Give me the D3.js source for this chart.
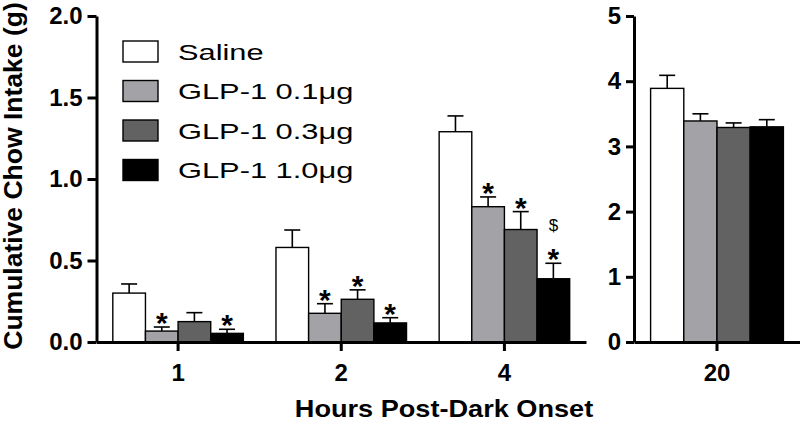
<!DOCTYPE html>
<html>
<head>
<meta charset="utf-8">
<script src="https://cdn.jsdelivr.net/npm/d3@7"></script>
<style>
  body { margin: 0; background: #fff; }
  svg { display: block; font-family: "Liberation Sans", Arial, sans-serif; }
</style>
</head>
<body>
<div id="chart"></div>
<script>
// ---- data ----
const hoursLeft = ["1", "2", "4"];
const hoursRight = ["20"];
const treatments = ["Saline", "GLP-1 0.1\u03bcg", "GLP-1 0.3\u03bcg", "GLP-1 1.0\u03bcg"];
const colors = ["#ffffff", "#a3a3a7", "#626262", "#000000"];

// means / SEM per treatment, for hours 1, 2, 4, 20
const salineMean = [0.30, 0.58, 1.29, 3.89];
const salineSem  = [0.056, 0.107, 0.097, 0.20];
const glp01Mean  = [0.067, 0.176, 0.83, 3.39];
const glp01Sem   = [0.025, 0.059, 0.06, 0.11];
const glp03Mean  = [0.125, 0.262, 0.69, 3.29];
const glp03Sem   = [0.055, 0.058, 0.11, 0.07];
const glp10Mean  = [0.053, 0.117, 0.388, 3.30];
const glp10Sem   = [0.025, 0.032, 0.095, 0.11];

// significance markers per hour (1, 2, 4, 20), one flag per treatment
const starMarks   = [[0, 1, 0, 1], [0, 1, 1, 1], [0, 1, 1, 1], [0, 0, 0, 0]];
const dollarMarks = [[0, 0, 0, 0], [0, 0, 0, 0], [0, 0, 0, 1], [0, 0, 0, 0]];

const hours = hoursLeft.concat(hoursRight);
const means = [salineMean, glp01Mean, glp03Mean, glp10Mean];
const sems = [salineSem, glp01Sem, glp03Sem, glp10Sem];

let rows = [];
hours.forEach((h, hi) => {
    treatments.forEach((t, ti) => {
        rows.push({hour: h, hi: hi, treatment: t, ti: ti,
                   mean: means[ti][hi], sem: sems[ti][hi],
                   star: starMarks[hi][ti], dollar: dollarMarks[hi][ti]});
    });
});

// ---- layout ----
const W = 800, H = 421;
const svg = d3.select("#chart").append("svg")
    .attr("width", W).attr("height", H);

const y0 = 342, yTop = 16;
const yLeft = d3.scaleLinear().domain([0, 2]).range([y0, yTop]);
const yRight = d3.scaleLinear().domain([0, 5]).range([y0, yTop]);

const xLeft = d3.scaleBand().domain(hoursLeft).range([96.5, 586])
    .paddingInner(0.2).paddingOuter(0.1);
const xRight = d3.scaleBand().domain(hoursRight).range([634, 800])
    .paddingInner(0.2).paddingOuter(0.1);

function drawPanel(xs, ys, data) {
    let g = svg.append("g");
    let sub = d3.scaleBand().domain(treatments).range([0, xs.bandwidth()]);
    let bw = sub.bandwidth();

    let bars = g.selectAll("g.bar").data(data).enter().append("g")
        .attr("transform", d => "translate(" + (xs(d.hour) + sub(d.treatment)) + ",0)");

    // error bars (upper only)
    bars.append("line")
        .attr("x1", bw / 2).attr("x2", bw / 2)
        .attr("y1", d => ys(d.mean)).attr("y2", d => ys(d.mean + d.sem))
        .attr("stroke", "#000").attr("stroke-width", 1.6);
    bars.append("line")
        .attr("x1", bw / 2 - 8).attr("x2", bw / 2 + 8)
        .attr("y1", d => ys(d.mean + d.sem)).attr("y2", d => ys(d.mean + d.sem))
        .attr("stroke", "#000").attr("stroke-width", 1.6);

    bars.append("rect")
        .attr("x", 0).attr("width", bw)
        .attr("y", d => ys(d.mean)).attr("height", d => ys(0) - ys(d.mean))
        .attr("fill", d => colors[d.ti])
        .attr("stroke", "#000").attr("stroke-width", 1.4);

    bars.filter(d => d.star).append("text")
        .attr("x", bw / 2).attr("y", d => ys(d.mean + d.sem) + 6)
        .attr("text-anchor", "middle")
        .style("font-size", "30px").style("font-weight", "bold")
        .text("*");

    bars.filter(d => d.dollar).append("text")
        .attr("x", bw / 2).attr("y", d => ys(d.mean + d.sem) - 32)
        .attr("text-anchor", "middle")
        .style("font-size", "17px")
        .text("$");
    return g;
}

drawPanel(xLeft, yLeft, rows.filter(d => hoursLeft.includes(d.hour)));
drawPanel(xRight, yRight, rows.filter(d => hoursRight.includes(d.hour)));

function styleAxis(g) {
    g.selectAll("path, line").attr("stroke", "#000").attr("stroke-width", 3);
    g.selectAll("text").attr("fill", "#000")
        .style("font-size", "24px").style("font-weight", "bold");
}

// y axes
svg.append("g").attr("transform", "translate(96.5,0)")
    .call(d3.axisLeft(yLeft).tickValues([0, 0.5, 1, 1.5, 2])
        .tickFormat(d3.format(".1f")).tickSize(9).tickSizeOuter(0).tickPadding(5))
    .call(styleAxis);
svg.append("g").attr("transform", "translate(634,0)")
    .call(d3.axisLeft(yRight).ticks(5).tickFormat(d3.format("d"))
        .tickSize(8).tickSizeOuter(0).tickPadding(5))
    .call(styleAxis);

// x axes
svg.append("g").attr("transform", "translate(0," + y0 + ")")
    .call(d3.axisBottom(xLeft).tickSize(9).tickSizeOuter(0).tickPadding(13))
    .call(styleAxis);
svg.append("g").attr("transform", "translate(0," + y0 + ")")
    .call(d3.axisBottom(xRight).tickSize(9).tickSizeOuter(0).tickPadding(13))
    .call(styleAxis);

// axis titles
svg.append("text")
    .attr("transform", "translate(22,176) rotate(-90)")
    .attr("text-anchor", "middle")
    .style("font-size", "26.5px").style("font-weight", "bold")
    .text("Cumulative Chow Intake (g)");

svg.append("text")
    .attr("transform", "translate(444,417) scale(1.18,1)")
    .attr("text-anchor", "middle")
    .style("font-size", "23px").style("font-weight", "bold")
    .text("Hours Post-Dark Onset");

// legend
const legend = svg.append("g").attr("transform", "translate(123,41)");
const item = legend.selectAll("g").data(treatments).enter().append("g")
    .attr("transform", (d, i) => "translate(0," + i * 39.5 + ")");
item.append("rect")
    .attr("width", 35).attr("height", 21)
    .attr("fill", (d, i) => colors[i])
    .attr("stroke", "#000").attr("stroke-width", 1.4);
item.append("text")
    .attr("transform", "translate(55,18.5) scale(1.37,1)")
    .style("font-size", "22.5px")
    .text(d => d);
</script>
</body>
</html>
